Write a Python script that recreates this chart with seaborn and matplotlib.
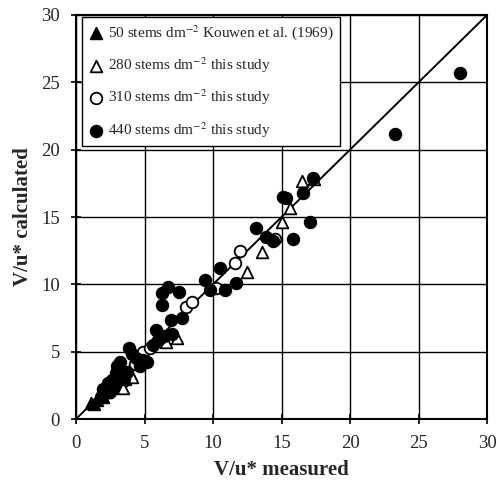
import matplotlib
matplotlib.use("Agg")
import matplotlib.pyplot as plt
import seaborn as sns
import pandas as pd

# Kouwen et al. (1969), 50 stems dm-2
k50_meas = [1.1, 1.3, 1.5, 1.9, 2.0, 2.2, 2.5, 2.8, 3.0, 3.3, 3.6, 4.0]
k50_calc = [1.2, 1.1, 1.4, 1.8, 1.6, 2.0, 2.3, 2.4, 2.6, 2.9, 3.0, 3.3]

# this study, 280 stems dm-2
s280_meas = [3.4, 4.1, 6.6, 7.4, 12.5, 13.6, 15.0, 15.6, 16.5, 17.4]
s280_calc = [2.3, 3.1, 5.7, 6.0, 10.9, 12.4, 14.6, 15.7, 17.7, 17.8]

# this study, 310 stems dm-2
s310_meas = [2.0, 3.4, 4.3, 4.9, 5.4, 6.0, 8.0, 8.5, 10.2, 11.6, 12.0, 14.5]
s310_calc = [1.9, 3.1, 4.1, 5.0, 5.3, 5.9, 8.3, 8.7, 9.7, 11.6, 12.5, 13.4]

# this study, 440 stems dm-2
s440_meas = [1.8, 2.0, 2.3, 2.1, 2.6, 2.9, 3.2, 3.0, 3.7, 3.9, 4.1, 4.4, 5.2,
             4.7, 5.6, 5.8, 6.4, 6.3, 6.3, 6.7, 7.5, 6.9, 7.7, 9.4, 9.8, 10.5,
             10.9, 11.7, 13.1, 13.9, 14.4, 15.1, 15.3, 16.6, 17.3, 17.1, 15.8,
             23.3, 28.0, 3.5, 2.5, 4.9, 7.0, 6.1]
s440_calc = [1.6, 2.2, 2.7, 1.9, 2.9, 3.4, 4.2, 3.9, 3.5, 5.3, 4.8, 4.5, 4.2,
             3.9, 5.5, 6.6, 6.2, 8.5, 9.35, 9.8, 9.4, 7.35, 7.5, 10.3, 9.6, 11.2,
             9.6, 10.1, 14.2, 13.5, 13.2, 16.5, 16.4, 16.8, 17.9, 14.6, 13.4,
             21.2, 25.7, 3.0, 2.0, 4.4, 6.3, 6.0]

labels = [
    r"50 stems dm$^{-2}$ Kouwen et al. (1969)",
    r"280 stems dm$^{-2}$ this study",
    r"310 stems dm$^{-2}$ this study",
    r"440 stems dm$^{-2}$ this study",
]
ticks = [0, 5, 10, 15, 20, 25, 30]

sns.set_theme(style="white")
plt.rcParams["font.family"] = ["Liberation Serif", "DejaVu Serif"]
plt.rcParams["mathtext.fontset"] = "stix"

fig = plt.figure(figsize=(4.97, 5.0), dpi=100)
ax = fig.add_axes([0.153, 0.162, 0.827, 0.808])

ax.grid(True, color="black", linewidth=1.0)
ax.set_axisbelow(True)

ax.plot([0, 30], [0, 30], color="black", linewidth=1.4, zorder=2)

series = [
    (k50_meas, k50_calc, "^", "black", labels[0]),
    (s280_meas, s280_calc, "^", "white", labels[1]),
    (s310_meas, s310_calc, "o", "white", labels[2]),
    (s440_meas, s440_calc, "o", "black", labels[3]),
]
for xs, ys, mk, fc, lab in series:
    df = pd.DataFrame({"measured": xs, "calculated": ys})
    sns.scatterplot(data=df, x="measured", y="calculated", marker=mk,
                    color=fc, edgecolor="black", linewidth=1.3, s=70,
                    label=lab, ax=ax, zorder=3)

ax.set_xlim(0, 30)
ax.set_ylim(0, 30)
ax.set_xticks(ticks)
ax.set_yticks(ticks)
ax.set_xticklabels([str(t) for t in ticks], fontsize=13.5)
ax.set_yticklabels([str(t) for t in ticks], fontsize=13.5)
ax.tick_params(direction="inout", length=7, width=1.2, color="black",
               bottom=True, left=True, pad=8)
for sp in ax.spines.values():
    sp.set_color("black")
    sp.set_linewidth(1.5)

ax.set_xlabel("V/u* measured", fontsize=15, fontweight="bold", labelpad=6)
ax.set_ylabel("V/u* calculated", fontsize=15, fontweight="bold", labelpad=6)

leg = ax.legend(loc="upper left", bbox_to_anchor=(0.015, 0.995),
                borderaxespad=0, fontsize=11, frameon=True, fancybox=False,
                edgecolor="black", framealpha=1.0, handletextpad=0.3,
                borderpad=0.4, labelspacing=0.85, handlelength=1.0)
leg.get_frame().set_linewidth(1.0)

fig.savefig("out.png", dpi=100)
